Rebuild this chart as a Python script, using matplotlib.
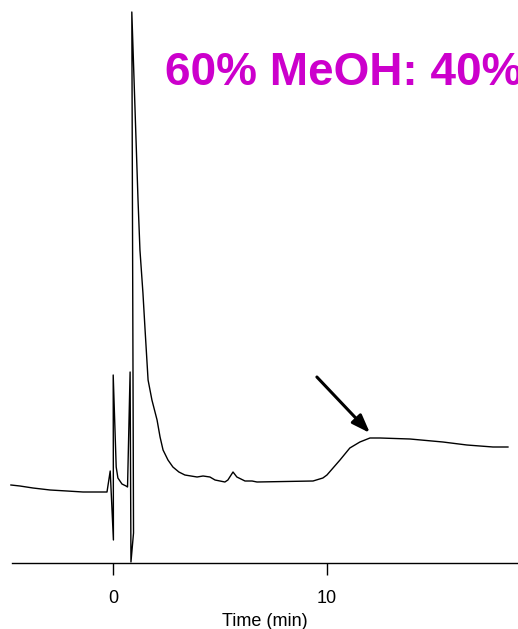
"""Chromatogram trace, 60% MeOH mobile phase"""

import matplotlib.pyplot as plt

# retention time (min) and detector signal (arbitrary units)
time_min = [-4.77, -4.35, -3.74, -2.94, -2.15, -1.40, -0.28, -0.13, 0.02, 0.01,
            0.15, 0.23, 0.42, 0.61, 0.68, 0.80, 0.84, 0.96, 0.88, 1.17,
            1.26, 1.40, 1.50, 1.64, 1.82, 2.06, 2.20, 2.34, 2.57, 2.80,
            3.08, 3.36, 3.93, 4.21, 4.53, 4.77, 5.23, 5.37, 5.61, 5.79,
            6.17, 6.50, 6.73, 9.35, 9.81, 10.00, 10.61, 11.07, 11.54, 12.01,
            12.48, 13.88, 15.42, 16.54, 17.76, 18.46]
signal = [15.6, 15.4, 15.0, 14.6, 14.4, 14.2, 14.2, 18.4, 4.6, 37.6,
          19.2, 17.0, 15.8, 15.4, 15.2, 38.2, 0.2, 6.0, 110.2, 72.6,
          62.6, 54.0, 46.6, 36.6, 32.6, 28.6, 25.2, 22.6, 20.6, 19.2,
          18.2, 17.6, 17.2, 17.4, 17.2, 16.6, 16.2, 16.6, 18.2, 17.2,
          16.4, 16.4, 16.2, 16.4, 17.0, 17.6, 20.6, 23.0, 24.2, 25.0,
          25.0, 24.8, 24.2, 23.6, 23.2, 23.2]

xticks = [0, 10]
title = "60% MeOH: 40%"
arrow_tail = (9.53, 37.2)
arrow_tip = (12.01, 26.0)


def main():
    plt.rcParams['font.family'] = ['Liberation Sans', 'DejaVu Sans']

    fig = plt.figure(figsize=(5.18, 6.29), dpi=100)
    ax = fig.add_axes([12 / 518, 1 - 563 / 629, 1 - 12 / 518, 563 / 629])

    ax.plot(time_min, signal, color='black', lw=1.0, clip_on=False)

    ax.annotate('', xy=arrow_tip, xytext=arrow_tail,
                arrowprops=dict(arrowstyle='-|>,head_length=1.1,head_width=0.4',
                                color='black', lw=2.2, shrinkA=0, shrinkB=0))

    ax.set_xlim(-4.72, 18.93)
    ax.set_ylim(0, 112.6)
    ax.set_xticks(xticks)
    ax.set_xticklabels([str(t) for t in xticks])
    ax.tick_params(axis='x', direction='out', length=8.5, width=1.0,
                   pad=11, labelsize=13)
    ax.set_yticks([])
    for side in ['top', 'right', 'left']:
        ax.spines[side].set_visible(False)
    ax.spines['bottom'].set_linewidth(1.0)
    ax.set_xlabel('Time (min)', fontsize=13, labelpad=4)

    fig.text(165 / 518, 1 - 85 / 629, title, color='#CC00CC',
             fontsize=33, fontweight='bold', va='baseline', ha='left')

    fig.savefig('out.png', dpi=100)


if __name__ == "__main__":
    main()
